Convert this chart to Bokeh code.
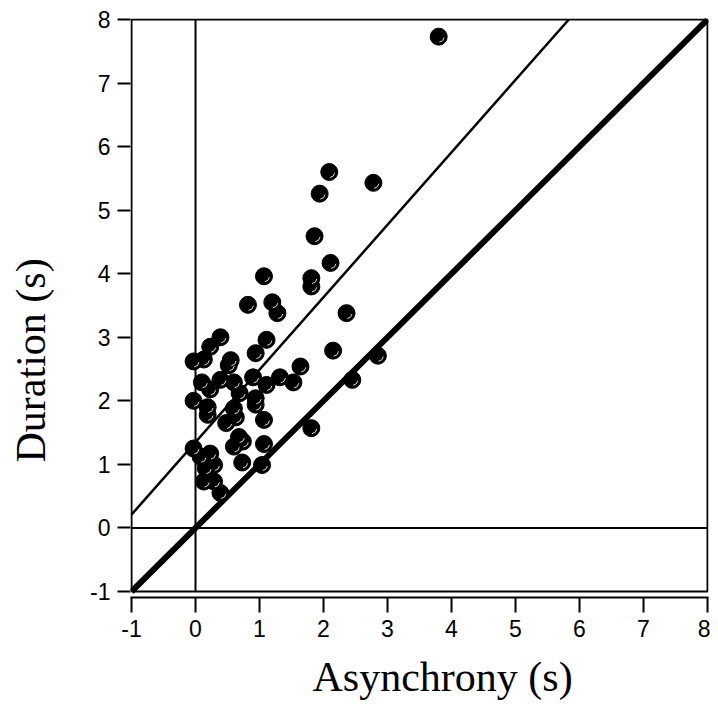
from bokeh.plotting import figure
from bokeh.models import Range1d, Title, FixedTicker
from bokeh.embed import file_html
from bokeh.resources import INLINE

# ---- data ----
asynchrony = [3.80, 2.09, 1.94, 2.78, 1.86, 2.11, 1.81, 1.81, 1.07, 0.82,
              1.20, 1.28, 2.36, 0.39, 0.23, 1.11, -0.03, 0.13, 0.55, 0.52,
              0.94, 2.15, 2.85, 1.64, 0.10, 0.23, 0.39, 0.60, 0.69, 0.90,
              1.11, 1.32, 1.53, 2.45, -0.03, 0.19, 0.19, 0.94, 0.94, 0.60,
              0.63, 0.48, 1.07, 1.81, 0.68, 0.74, 0.60, 1.07, -0.03, 0.08,
              0.23, 0.29, 0.16, 0.73, 1.04, 0.13, 0.29, 0.39]
duration = [7.73, 5.60, 5.26, 5.43, 4.59, 4.17, 3.93, 3.80, 3.96, 3.51,
            3.55, 3.38, 3.38, 3.00, 2.85, 2.96, 2.62, 2.65, 2.64, 2.56,
            2.75, 2.79, 2.71, 2.54, 2.29, 2.18, 2.33, 2.29, 2.12, 2.37,
            2.25, 2.37, 2.29, 2.33, 2.00, 1.90, 1.78, 2.04, 1.94, 1.88,
            1.74, 1.65, 1.70, 1.57, 1.43, 1.36, 1.28, 1.32, 1.25, 1.12,
            1.17, 0.99, 0.94, 1.03, 0.99, 0.73, 0.73, 0.55]
fit_slope = 1.14
fit_intercept = 1.35
x_ticks = [-1, 0, 1, 2, 3, 4, 5, 6, 7, 8]
y_ticks = [-1, 0, 1, 2, 3, 4, 5, 6, 7, 8]
tick_labels = {-1: "-1", 0: "0", 1: "1", 2: "2", 3: "3", 4: "4",
               5: "5", 6: "6", 7: "7", 8: "8"}
x_lim = (-1, 8)
y_lim = (-1, 8)

# ---- figure ----
ppx = 64.0
ppy = 63.67
ex = 1.0 / ppx
ey_top = 1.0 / ppy
ey_bot = 6.0 / ppy
shift = 40  # extra empty border on the left, hidden by a negative margin

p = figure(width=710 + shift, height=721, output_backend="svg", toolbar_location=None,
           x_range=Range1d(x_lim[0] - ex, x_lim[1] + ex),
           y_range=Range1d(y_lim[0] - ey_bot, y_lim[1] + ey_top),
           frame_width=578, frame_height=579,
           min_border_left=130 + shift, min_border_right=2,
           min_border_top=18, min_border_bottom=124)
p.styles = {"margin-left": f"-{shift}px"}
p.outline_line_color = None
p.xgrid.visible = False
p.ygrid.visible = False
p.background_fill_color = "white"
p.border_fill_color = "white"

for ax, ticks, tl in ((p.xaxis[0], x_ticks, 15), (p.yaxis[0], y_ticks, 13)):
    ax.ticker = FixedTicker(ticks=ticks)
    ax.major_label_overrides = tick_labels
    ax.minor_tick_line_color = None
    ax.major_tick_in = 0
    ax.major_tick_out = tl
    ax.major_tick_line_width = 2
    ax.major_tick_line_color = "black"
    ax.axis_line_width = 2
    ax.axis_line_color = "black"
    ax.major_label_text_font = "Liberation Sans"
    ax.major_label_text_font_size = "23px"
    ax.major_label_text_color = "black"
    ax.major_label_standoff = 7
p.yaxis[0].axis_line_color = None

# box
p.line([x_lim[0], x_lim[0], x_lim[1], x_lim[1], x_lim[0]],
       [y_lim[0], y_lim[1], y_lim[1], y_lim[0], y_lim[0]],
       line_color="black", line_width=2)
# zero lines
p.line([0, 0], [y_lim[0], y_lim[1]], line_color="black", line_width=2)
p.line([x_lim[0], x_lim[1]], [0, 0], line_color="black", line_width=2)

# identity line (thick)
p.line([x_lim[0], x_lim[1]], [x_lim[0], x_lim[1]], line_color="black", line_width=6)
# fitted line (thin)
x_end = (y_lim[1] - fit_intercept) / fit_slope
p.line([x_lim[0], x_end], [fit_intercept + fit_slope * x_lim[0], y_lim[1]],
       line_color="black", line_width=2.5)

# points
p.scatter(asynchrony, duration, marker="circle", size=17,
          fill_color="black", line_color="black", line_width=1)
p.arc(asynchrony, duration, radius=5.5, radius_units="screen",
      start_angle=-1.45, end_angle=-0.15, direction="anticlock",
      line_color="#d8d8d8", line_width=1)

# axis titles
p.add_layout(Title(text="Asynchrony (s)", align="left", offset=182,
                   text_font="Liberation Serif", text_font_size="42px",
                   text_font_style="normal", text_color="black",
                   standoff=24), "below")
p.add_layout(Title(text="Duration (s)", align="left", offset=135,
                   text_font="Liberation Serif", text_font_size="42px",
                   text_font_style="normal", text_color="black",
                   standoff=67), "left")

open("out.html", "w").write(file_html(p, INLINE))
